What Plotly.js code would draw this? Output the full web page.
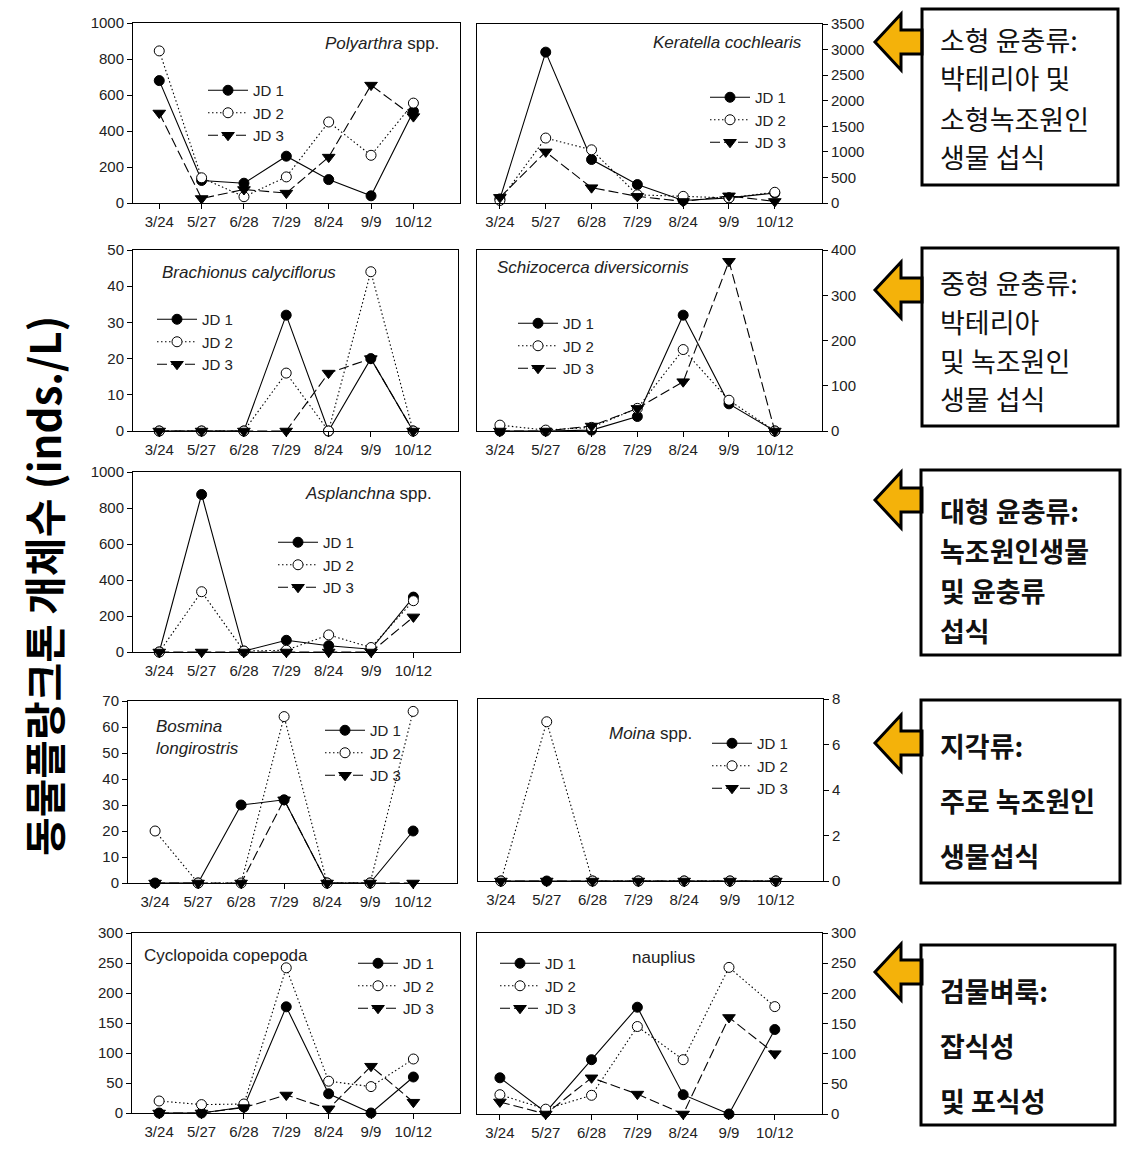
<!DOCTYPE html>
<html>
<head>
<meta charset="utf-8">
<script src="https://cdn.plot.ly/plotly-3.0.1.min.js"></script>
<style>
  html, body { margin: 0; padding: 0; background: #fff; }
  #chart { width: 1124px; height: 1157px; }
</style>
</head>
<body>
<div id="chart"></div>
<script>
// Sampling dates and stations
const dates = ['3/24', '5/27', '6/28', '7/29', '8/24', '9/9', '10/12'];
const stations = ['JD 1', 'JD 2', 'JD 3'];

// Polyarthra spp.
const polyarthraJD1 = [680, 125, 110, 260, 130, 40, 510];
const polyarthraJD2 = [845, 140, 35, 145, 450, 265, 555];
const polyarthraJD3 = [500, 25, 75, 55, 255, 655, 480];

// Keratella cochlearis
const keratellaJD1 = [80, 2950, 850, 360, 50, 100, 195];
const keratellaJD2 = [50, 1270, 1040, 160, 130, 100, 210];
const keratellaJD3 = [110, 1000, 300, 130, 30, 140, 30];

// Brachionus calyciflorus
const brachionusJD1 = [0, 0, 0, 32, 0, 20, 0];
const brachionusJD2 = [0, 0, 0, 16, 0, 44, 0];
const brachionusJD3 = [0, 0, 0, 0, 16, 20, 0];

// Schizocerca diversicornis
const schizocercaJD1 = [0, 0, 2, 32, 256, 60, 0];
const schizocercaJD2 = [13, 2, 8, 50, 180, 68, 0];
const schizocercaJD3 = [0, 0, 11, 50, 109, 375, 0];

// Asplanchna spp.
const asplanchnaJD1 = [0, 875, 5, 65, 35, 15, 305];
const asplanchnaJD2 = [0, 335, 5, 10, 95, 25, 285];
const asplanchnaJD3 = [0, 0, 0, 0, 0, 0, 195];

// Bosmina longirostris
const bosminaJD1 = [0, 0, 30, 32, 0, 0, 20];
const bosminaJD2 = [20, 0, 0, 64, 0, 0, 66];
const bosminaJD3 = [0, 0, 0, 32, 0, 0, 0];

// Moina spp.
const moinaJD1 = [0, 0, 0, 0, 0, 0, 0];
const moinaJD2 = [0, 7, 0, 0, 0, 0, 0];
const moinaJD3 = [0, 0, 0, 0, 0, 0, 0];

// Cyclopoida copepoda
const cyclopoidaJD1 = [0, 0, 10, 177, 32, 0, 60];
const cyclopoidaJD2 = [20, 14, 15, 242, 53, 44, 90];
const cyclopoidaJD3 = [0, 0, 9, 30, 7, 78, 18];

// nauplius
const naupliusJD1 = [60, 3, 90, 177, 32, 0, 140];
const naupliusJD2 = [32, 8, 31, 145, 90, 243, 178];
const naupliusJD3 = [20, 0, 60, 33, 0, 160, 100];

// Feeding-group notes shown at the right
const groupNotes = [
  ['소형 윤충류:', '박테리아 및', '소형녹조원인', '생물 섭식'],
  ['중형 윤충류:', '박테리아', '및 녹조원인', '생물 섭식'],
  ['대형 윤충류:', '녹조원인생물', '및 윤충류', '섭식'],
  ['지각류:', '주로 녹조원인', '생물섭식'],
  ['검물벼룩:', '잡식성', '및 포식성']
];

const yAxisTitle = '동물플랑크톤 개체수 (inds./L)';

// ---------------------------------------------------------------------------
const W = 1124, H = 1157;
const px = x => x / W;
const py = y => 1 - y / H;
const FONT = '"Liberation Sans", Arial, sans-serif';
const KFONT = '"Noto Sans CJK KR", "Noto Sans", sans-serif';
const TICK = 15;

const panels = [
  { series: [polyarthraJD1, polyarthraJD2, polyarthraJD3], box: [133, 460, 23, 203], xr: [-0.62, 7.1], yr: [0, 1000], dt: 200, side: 'left',
    label: { text: '<i>Polyarthra</i> spp.', x: 441, y: 43, anchor: 'right' }, leg: [203, 113] },
  { series: [keratellaJD1, keratellaJD2, keratellaJD3], box: [477, 822, 24, 203], xr: [-0.5, 7.03], yr: [0, 3500], dt: 500, side: 'right',
    label: { text: '<i>Keratella cochlearis</i>', x: 804, y: 42, anchor: 'right' }, leg: [705, 120] },
  { series: [brachionusJD1, brachionusJD2, brachionusJD3], box: [133, 458, 250, 431], xr: [-0.62, 7.06], yr: [0, 50], dt: 10, side: 'left',
    label: { text: '<i>Brachionus calyciflorus</i>', x: 160, y: 272, anchor: 'left' }, leg: [152, 342] },
  { series: [schizocercaJD1, schizocercaJD2, schizocercaJD3], box: [477, 822, 250, 431], xr: [-0.5, 7.03], yr: [0, 400], dt: 100, side: 'right',
    label: { text: '<i>Schizocerca diversicornis</i>', x: 495, y: 268, anchor: 'left' }, leg: [513, 346] },
  { series: [asplanchnaJD1, asplanchnaJD2, asplanchnaJD3], box: [133, 460, 472, 652], xr: [-0.62, 7.1], yr: [0, 1000], dt: 200, side: 'left',
    label: { text: '<i>Asplanchna</i> spp.', x: 434, y: 494, anchor: 'right' }, leg: [273, 565] },
  { series: [bosminaJD1, bosminaJD2, bosminaJD3], box: [128, 457, 701, 883], xr: [-0.63, 7.02], yr: [0, 70], dt: 10, side: 'left',
    label: { text: '<i>Bosmina<br>longirostris</i>', x: 154, y: 737, anchor: 'left' }, leg: [320, 753] },
  { series: [moinaJD1, moinaJD2, moinaJD3], box: [478, 823, 699, 881], xr: [-0.5, 7.03], yr: [0, 8], dt: 2, side: 'right',
    label: { text: '<i>Moina</i> spp.', x: 607, y: 733, anchor: 'left' }, leg: [707, 766] },
  { series: [cyclopoidaJD1, cyclopoidaJD2, cyclopoidaJD3], box: [132, 460, 933, 1113], xr: [-0.64, 7.1], yr: [0, 300], dt: 50, side: 'left',
    label: { text: 'Cyclopoida copepoda', x: 142, y: 955, anchor: 'left' }, leg: [353, 986] },
  { series: [naupliusJD1, naupliusJD2, naupliusJD3], box: [477, 822, 933, 1114], xr: [-0.5, 7.03], yr: [0, 300], dt: 50, side: 'right',
    label: { text: 'nauplius', x: 630, y: 957, anchor: 'left' }, leg: [495, 986] }
];

// Line and marker style per station
const stationStyle = [
  { dash: 'solid',       symbol: 'circle',        fill: '#000' },
  { dash: '1.5px,2.5px', symbol: 'circle',        fill: '#fff' },
  { dash: '10px,4px',    symbol: 'triangle-down', fill: '#000' }
];

const traces = [];
const layout = {
  width: W, height: H,
  margin: { l: 0, r: 0, t: 0, b: 0 },
  paper_bgcolor: '#fff', plot_bgcolor: '#fff',
  font: { family: FONT, color: '#222', size: TICK },
  annotations: [], shapes: []
};

panels.forEach((p, i) => {
  const n = i + 1;
  const sfx = n === 1 ? '' : String(n);
  const legName = 'legend' + sfx;
  p.series.forEach((vals, k) => {
    const st = stationStyle[k];
    traces.push({
      type: 'scatter', mode: 'lines+markers',
      x: dates, y: vals, name: stations[k],
      xaxis: 'x' + sfx, yaxis: 'y' + sfx, legend: legName,
      cliponaxis: false,
      line: { color: '#000', width: 1.1, dash: st.dash },
      marker: { symbol: st.symbol, size: k === 2 ? 11 : 10, color: st.fill, line: { color: '#000', width: 1 } }
    });
  });
  const [x0, x1, y0, y1] = p.box;
  layout['xaxis' + sfx] = {
    domain: [px(x0), px(x1)], anchor: 'y' + sfx, type: 'category', range: p.xr,
    showline: true, linecolor: '#000', linewidth: 1, mirror: true,
    ticks: 'outside', ticklen: 5, tickcolor: '#000', showgrid: false, zeroline: false,
    tickfont: { size: TICK, family: FONT, color: '#222' }, fixedrange: true
  };
  layout['yaxis' + sfx] = {
    domain: [py(y1), py(y0)], anchor: 'x' + sfx, range: p.yr, dtick: p.dt, side: p.side,
    showline: true, linecolor: '#000', linewidth: 1, mirror: true,
    ticks: 'outside', ticklen: 5, tickcolor: '#000', showgrid: false, zeroline: false,
    tickfont: { size: TICK, family: FONT, color: '#222' }, fixedrange: true
  };
  layout[legName] = {
    x: px(p.leg[0]), xanchor: 'left', y: py(p.leg[1]), yanchor: 'middle',
    bgcolor: 'rgba(0,0,0,0)', borderwidth: 0, tracegroupgap: 0, traceorder: 'normal',
    itemwidth: 40, font: { size: 15, family: FONT, color: '#222' }
  };
  layout.annotations.push({
    xref: 'paper', yref: 'paper', x: px(p.label.x), y: py(p.label.y),
    xanchor: p.label.anchor, yanchor: 'middle', align: 'left', showarrow: false,
    text: p.label.text, font: { size: 17, family: FONT, color: '#222' }
  });
});

// Vertical axis title shared by all panels
layout.annotations.push({
  xref: 'paper', yref: 'paper', x: px(42), y: py(586), xanchor: 'center', yanchor: 'middle',
  textangle: -90, showarrow: false, text: '<b>' + yAxisTitle + '</b>',
  font: { size: 42, family: KFONT, color: '#000' }
});

// Note boxes with arrows
const noteBoxes = [
  { rect: [922, 1118, 9, 185],   arrowY: 42,  lines: [40, 78, 118, 156], bold: false },
  { rect: [922, 1118, 248, 426], arrowY: 290, lines: [282, 321, 360, 399], bold: false },
  { rect: [921, 1120, 470, 655], arrowY: 500, lines: [510, 550, 590, 630], bold: true },
  { rect: [921, 1120, 700, 883], arrowY: 743, lines: [745, 800, 855], bold: true },
  { rect: [921, 1115, 945, 1125], arrowY: 972, lines: [990, 1045, 1100], bold: true }
];

function arrowPath(cy) {
  const tip = 875, hb = 901, end = 922, hh = 28, sh = 12;
  const pts = [[tip, cy], [hb, cy - hh], [hb, cy - sh], [end, cy - sh], [end, cy + sh], [hb, cy + sh], [hb, cy + hh]];
  return 'M' + pts.map(q => px(q[0]) + ',' + py(q[1])).join('L') + 'Z';
}

noteBoxes.forEach((b, i) => {
  layout.shapes.push({
    type: 'path', xref: 'paper', yref: 'paper', path: arrowPath(b.arrowY),
    fillcolor: '#F4B20A', line: { color: '#000', width: 3 }
  });
  layout.shapes.push({
    type: 'rect', xref: 'paper', yref: 'paper',
    x0: px(b.rect[0]), x1: px(b.rect[1]), y0: py(b.rect[3]), y1: py(b.rect[2]),
    fillcolor: 'rgba(0,0,0,0)', line: { color: '#000', width: 3 }
  });
  groupNotes[i].forEach((t, j) => {
    layout.annotations.push({
      xref: 'paper', yref: 'paper', x: px(938), y: py(b.lines[j]),
      xanchor: 'left', yanchor: 'middle', showarrow: false,
      text: b.bold ? '<b>' + t + '</b>' : t,
      font: { size: 27, family: KFONT, color: '#111' }
    });
  });
});

Plotly.newPlot('chart', traces, layout, { staticPlot: true, displayModeBar: false });
</script>
</body>
</html>
